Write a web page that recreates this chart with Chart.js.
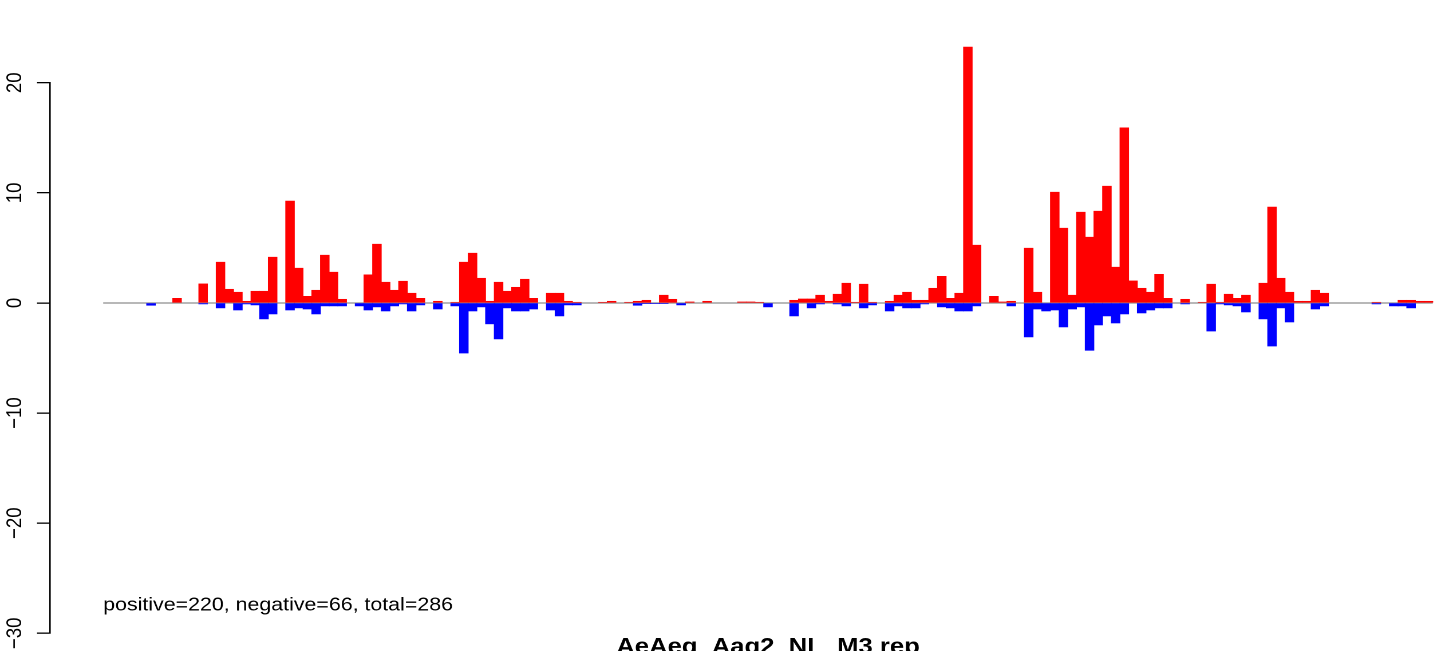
<!DOCTYPE html>
<html>
<head>
<meta charset="utf-8">
<script src="https://cdn.jsdelivr.net/npm/chart.js@4/dist/chart.umd.min.js"></script>
<style>
html, body { margin: 0; padding: 0; background: #fff; overflow: hidden; }
/* the reference is stretched sideways, so the canvas is too */
#wrap { width: 1300px; height: 680px; transform: scaleX(1.145); transform-origin: 0 0; }
</style>
</head>
<body>
<div id="wrap"><canvas id="chartBins" width="1300" height="680"></canvas></div>
<script>
// values per bin //
var posVals = [0, 0, 0, 0, 0, 0, 0, 0, 0.42, 0,
    0, 1.73, 0, 3.7, 1.24, 0.97, 0.15, 1.06, 1.06, 4.15,
    0, 9.25, 3.15, 0.6, 1.15, 4.33, 2.79, 0.33, 0, 0,
    2.55, 5.33, 1.88, 1.15, 1.97, 0.88, 0.42, 0, 0.15, 0,
    0.06, 3.7, 4.52, 2.24, 0.15, 1.88, 1.06, 1.42, 2.15, 0.42,
    0, 0.88, 0.88, 0.15, 0.06, 0, 0, 0.06, 0.15, 0,
    0.06, 0.15, 0.24, 0, 0.7, 0.33, 0, 0.09, 0, 0.15,
    0, 0, 0, 0.09, 0.09, 0.06, 0, 0, 0, 0.24,
    0.36, 0.36, 0.7, 0.15, 0.79, 1.79, 0.06, 1.7, 0.06, 0,
    0.15, 0.7, 0.97, 0.24, 0.24, 1.33, 2.42, 0.42, 0.88, 23.24,
    5.24, 0, 0.6, 0.09, 0.15, 0, 4.97, 0.97, 0, 10.06,
    6.79, 0.7, 8.24, 5.97, 8.33, 10.6, 3.24, 15.9, 2.0, 1.33,
    0.97, 2.6, 0.42, 0, 0.33, 0, 0.06, 1.7, 0.06, 0.79,
    0.42, 0.7, 0, 1.79, 8.7, 2.24, 0.97, 0.15, 0.15, 1.15,
    0.88, 0, 0, 0, 0, 0, 0.06, 0, 0, 0.24,
    0.24, 0.15, 0.15]

var negVals = [0, 0, 0, 0, 0, -0.21, 0, 0, 0, 0,
    0, -0.09, 0, -0.45, 0, -0.64, -0.09, -0.18, -1.45, -1.0,
    0, -0.64, -0.45, -0.55, -1.0, -0.27, -0.27, -0.27, 0, -0.27,
    -0.64, -0.36, -0.73, -0.27, -0.09, -0.73, -0.18, 0, -0.55, 0,
    -0.27, -4.55, -0.73, -0.36, -1.9, -3.27, -0.45, -0.73, -0.73, -0.55,
    0, -0.64, -1.18, -0.18, -0.18, 0, 0, 0, 0, 0,
    0, -0.21, -0.06, -0.06, -0.06, 0, -0.18, 0, 0, 0,
    0, 0, 0, 0, 0, 0, -0.36, 0, 0, -1.18,
    0, -0.45, -0.09, 0, -0.09, -0.27, 0, -0.45, -0.18, 0,
    -0.73, -0.27, -0.45, -0.45, -0.09, 0, -0.36, -0.45, -0.73, -0.73,
    -0.27, 0, 0, 0, -0.27, 0, -3.09, -0.55, -0.73, -0.64,
    -2.18, -0.55, -0.36, -4.3, -2.0, -1.18, -1.82, -1.0, 0, -0.91,
    -0.64, -0.45, -0.45, 0, -0.09, 0, 0, -2.55, -0.09, -0.18,
    -0.27, -0.82, 0, -1.45, -3.91, -0.45, -1.73, 0, 0, -0.55,
    -0.27, 0, 0, 0, 0, 0, -0.09, 0, -0.27, -0.27,
    -0.45, 0, 0]

var yTicks = [-30, -20, -10, 0, 10, 20]
var chartTitle = 'AeAeg_Aag2_NL_M3 rep'
var summary = 'positive=220, negative=66, total=286'

var nBins = posVals.length
var fontFam = "'Liberation Sans', Arial, sans-serif"

// bins sit at i + 0.5, empty bins are not drawn //
function toPoints(vals) {
    return vals.map(function (v, i) {
        return { x: i + 0.5, y: v === 0 ? null : v }
    })
}

// counts text in the lower left //
var summaryText = {
    id: 'summaryText',
    afterDraw: function (chart) {
        var ctx = chart.ctx
        ctx.save()
        ctx.font = '18.67px ' + fontFam
        ctx.fillStyle = 'black'
        ctx.textAlign = 'left'
        ctx.textBaseline = 'alphabetic'
        ctx.fillText(summary, chart.scales.x.getPixelForValue(0), chart.scales.y.getPixelForValue(-27.94))
        ctx.restore()
    }
}

var barOpts = {
    grouped: false,
    barPercentage: 1,
    categoryPercentage: 1,
    borderWidth: 0,
    clip: false,
    order: 1
}

var chartBins = new Chart(document.getElementById('chartBins'), {
    type: 'bar',
    data: {
        datasets: [
            Object.assign({ label: 'positive', data: toPoints(posVals), backgroundColor: '#ff0000' }, barOpts),
            Object.assign({ label: 'negative', data: toPoints(negVals), backgroundColor: '#0000ff' }, barOpts),
            {
                type: 'line',
                label: 'zero',
                data: [{ x: 0, y: 0 }, { x: nBins, y: 0 }],
                borderColor: '#a0a0a0',
                borderWidth: 1.5,
                pointRadius: 0,
                order: 3
            }
        ]
    },

    options: {
        responsive: false,
        animation: false,
        devicePixelRatio: 2,
        layout: {
            padding: { top: 82.7, bottom: 21.3, left: 0, right: 2.2 }
        },
        plugins: {
            legend: { display: false },
            tooltip: { enabled: false }
        },

        scales: {
            x: {
                type: 'linear',
                offset: false,
                min: -0.04 * nBins,
                max: nBins * 1.04,
                ticks: { display: false },
                grid: { display: false, drawTicks: false },
                border: { display: false },
                title: {
                    display: true,
                    text: chartTitle,
                    color: 'black',
                    padding: { top: 3, bottom: 0 },
                    font: { family: fontFam, size: 22.4, weight: 'bold', lineHeight: 1 }
                }
            },

            y: {
                min: -30,
                max: 20,
                afterBuildTicks: function (s) {
                    s.ticks = yTicks.map(function (v) { return { value: v } })
                },
                afterFit: function (s) {
                    s.width = 43.67
                },
                ticks: {
                    color: 'black',
                    minRotation: 90,
                    maxRotation: 90,
                    crossAlign: 'center',
                    padding: 3.1,
                    font: { family: fontFam, size: 18.67 },
                    callback: function (v) {
                        return v < 0 ? '\u2212' + Math.abs(v) : String(v)
                    }
                },
                grid: {
                    drawOnChartArea: false,
                    color: 'black',
                    lineWidth: 1.3,
                    tickLength: 11.35
                },
                border: { color: 'black', width: 1.3 }
            }
        }
    },

    plugins: [summaryText]
})
</script>
</body>
</html>
